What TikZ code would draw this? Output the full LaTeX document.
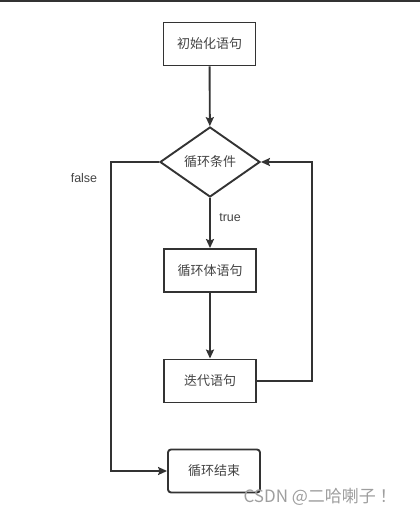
\documentclass[tikz,border=0pt]{standalone}
\usepackage{fontspec}
\setmainfont{Liberation Sans}
\newfontfamily\cjk{Noto Sans CJK SC}
\usetikzlibrary{shapes.geometric,arrows.meta}
\definecolor{ln}{HTML}{333333}
\definecolor{tx}{HTML}{444444}
\tikzset{
  box/.style={draw=ln, line width=1.9pt, minimum width=92pt, minimum height=43pt, inner sep=0pt, font=\cjk\fontsize{13}{14}\selectfont, text=tx},
  rbox/.style={box, rounded corners=3pt},
  dia/.style={draw=ln, line width=1.9pt, diamond, aspect=1.43, minimum width=100pt, minimum height=70pt, inner sep=0pt, font=\cjk\fontsize{13}{14}\selectfont, text=tx},
  arr/.style={draw=ln, line width=1.9pt, -{Stealth[length=9pt,width=8pt,inset=1.5pt]}},
  lbl/.style={font=\fontsize{12.5}{14}\selectfont, text=tx},
}
\begin{document}
\begin{tikzpicture}[x=1pt,y=-1pt]
\useasboundingbox (0,0) rectangle (420,514);
\draw[ln, line width=1.5pt] (0,0.75) -- (420,0.75);
\node[box] (init) at (209.5,44) {初始化语句};
\node[dia] (cond) at (210,162) {循环条件};
\node[box] (body) at (210,270.5) {循环体语句};
\node[box] (iter) at (210,381) {迭代语句};
\node[rbox] (end) at (214,471) {循环结束};
\coordinate (r1) at (312,381);
\coordinate (r2) at (312,162);
\coordinate (l1) at (111,162);
\coordinate (l2) at (111,471);
\draw[arr] (init) -- (cond);
\draw[arr] (cond) -- (body) node[pos=0.4, right=5pt, lbl] {true};
\draw[arr] (body) -- (iter);
\draw[arr] (iter.east) -- (r1) -- (r2) -- (cond.east);
\draw[arr] (cond.west) -- (l1) -- (l2) -- (end.west);
\node[lbl] (f) at (84,178) {false};
\node[font=\cjk\fontsize{17}{18}\selectfont, text=black!38, anchor=west] (wm) at (240,497) {CSDN @二哈喇子 ！};
\end{tikzpicture}
\end{document}
